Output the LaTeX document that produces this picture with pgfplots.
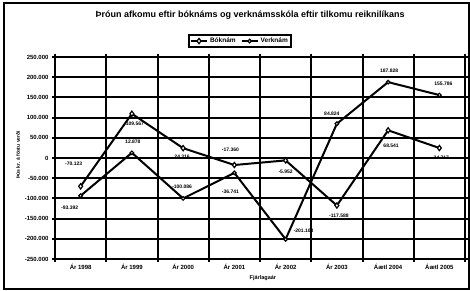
\documentclass[border=0pt]{standalone}
\usepackage{pgfplots}
\pgfplotsset{compat=1.18}
\usepackage{pgfplotstable}
\usepackage{fontspec}
\setmainfont{Liberation Sans}

\pgfplotstableread{
x y lab dx dy
0 -70123 {-70.123} -7 23
1 109567 {109.567} 3 -10
2 24316 {24.316} -1 -9
3 -17360 {-17.360} -4 15
4 -5952 {-5.952} 0 -11
5 -117588 {-117.588} 2 -10
6 68541 {68.541} 3 -15
7 24717 {24.717} 2 -10
}\bokn

\pgfplotstableread{
x y lab dx dy
0 -93392 {-93.392} -11 -12
1 12878 {12.878} 1 11
2 -100086 {-100.086} -1 12
3 -36741 {-36.741} -4 -19
4 -201103 {-201.103} 18 8
5 84824 {84.824} -5 10
6 187828 {187.828} 1 11
7 155786 {155.786} 4 11
}\verkn

\begin{document}
\begin{tikzpicture}
\useasboundingbox (0,0) rectangle (470pt,291pt);
\draw[line width=1.6pt] (4pt,2pt) rectangle (469pt,288pt);
\begin{axis}[
  at={(55pt,32pt)}, anchor=south west,
  scale only axis, width=410pt, height=202pt,
  xmin=-0.5, xmax=7.5, ymin=-250000, ymax=250000,
  xtick={-0.5,0.5,...,7.5},
  xticklabels={},
  xmajorgrids=true,
  extra x ticks={0,1,...,7},
  extra x tick labels={Ár 1998,Ár 1999,Ár 2000,Ár 2001,Ár 2002,Ár 2003,Áætl 2004,Áætl 2005},
  extra x tick style={grid=none, major tick length=0pt},
  ytick={-250000,-200000,...,250000},
  ymajorgrids=true,
  scaled y ticks=false,
  yticklabel style={/pgf/number format/.cd, fixed, precision=0, 1000 sep={.}, assume math mode=true},
  tick align=outside,
  major tick length=3pt,
  every tick/.style={black, line width=2pt},
  major grid style={black, line width=2pt},
  axis line style={black, line width=2pt},
  tick label style={font=\fontsize{6}{7}\selectfont\bfseries},
  xticklabel style={yshift=-2pt},
  title={Þróun afkomu eftir bóknáms og verknámsskóla eftir tilkomu reiknilíkans},
  title style={at={(0.476,1.178)}, anchor=center, font=\fontsize{9}{10}\selectfont\bfseries},
  xlabel={Fjárlagaár},
  xlabel style={at={(0.507,-0.094)}, anchor=center, font=\fontsize{5.5}{6}\selectfont\bfseries},
  ylabel={Þús kr. á föstu verði},
  ylabel style={at={(-0.090,0.515)}, anchor=center, rotate=0, font=\fontsize{5}{6}\selectfont\bfseries},
  legend style={at={(0.451,1.079)}, anchor=center, legend columns=2, draw=black, line width=1.6pt,
    font=\fontsize{6.5}{7}\selectfont\bfseries, inner sep=1pt,
    /tikz/every even column/.append style={column sep=3pt}},
  legend image code/.code={\draw[#1] (0pt,0pt) -- (16pt,0pt); \draw[#1, mark repeat=2, mark phase=2] plot coordinates {(0pt,0pt) (8pt,0pt) (16pt,0pt)};},
  clip=false,
]
\pgfplotsinvokeforeach{-200000,-150000,-100000,-50000,0,50000,100000,150000,200000}{
  \draw[black, line width=2pt] (axis cs:-0.5,#1) -- (axis cs:7.5,#1);
}
\pgfplotsinvokeforeach{0.5,1.5,2.5,3.5,4.5,5.5,6.5}{
  \draw[black, line width=2pt] (axis cs:#1,-250000) -- (axis cs:#1,250000);
}
\addplot[black, line width=2pt, mark=diamond*, mark options={fill=white, line width=1.2pt, scale=1.3},
  point meta=explicit symbolic, nodes near coords,
  visualization depends on={\thisrow{dx} \as \ldx},
  visualization depends on={\thisrow{dy} \as \ldy},
  every node near coord/.append style={anchor=center, xshift=\ldx pt, yshift=\ldy pt,
    font=\fontsize{5}{6}\selectfont\bfseries, inner sep=0pt, text=black}]
  table[x=x, y=y, meta=lab] {\bokn};
\addlegendentry{Bóknám}
\addplot[black, line width=2pt, mark=*, mark options={fill=white, line width=1.2pt, scale=0.9},
  point meta=explicit symbolic, nodes near coords,
  visualization depends on={\thisrow{dx} \as \ldx},
  visualization depends on={\thisrow{dy} \as \ldy},
  every node near coord/.append style={anchor=center, xshift=\ldx pt, yshift=\ldy pt,
    font=\fontsize{5}{6}\selectfont\bfseries, inner sep=0pt, text=black}]
  table[x=x, y=y, meta=lab] {\verkn};
\addlegendentry{Verknám}
\end{axis}
\end{tikzpicture}
\end{document}
